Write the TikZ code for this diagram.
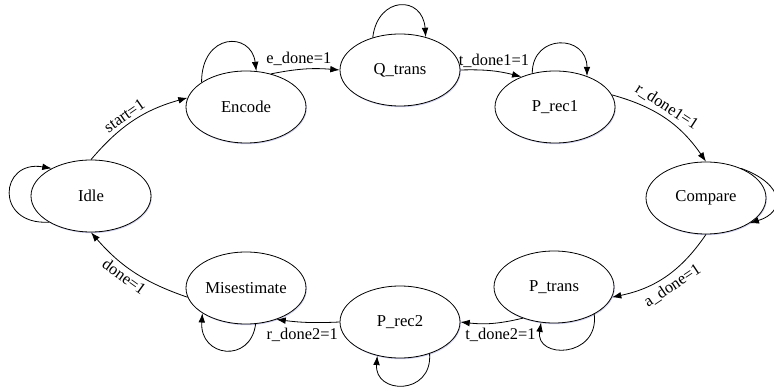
\documentclass[tikz,border=0pt]{standalone}
\usepackage{fontspec}
\setmainfont{Liberation Serif}
\usetikzlibrary{%
	arrows.meta,%
	shapes.geometric,%
	shadows%
}

\begin{document}
\begin{tikzpicture}[x=0.75pt,y=-0.75pt,line width=0.6pt,
	>={Latex[length=7pt,width=5pt]},
	fsm/.style={ellipse,draw,fill=white,minimum width=90pt,minimum height=54pt,inner sep=0pt,
		font=\fontsize{12.5}{14}\selectfont,
		drop shadow={shadow xshift=0.6pt,shadow yshift=-0.9pt,fill=cyan!25!blue!18,opacity=1}},
	lbl/.style={font=\fontsize{12.3}{14}\selectfont,inner sep=2.5pt}]
	\useasboundingbox (0,0) rectangle (774,388);

	% States
	\node[fsm] (idle) at (91,196) {Idle};
	\node[fsm] (encode) at (246,107) {Encode};
	\node[fsm] (qtrans) at (400,70) {Q\_trans};
	\node[fsm] (prec1) at (555,107) {P\_rec1};
	\node[fsm] (compare) at (706,198) {Compare};
	\node[fsm] (ptrans) at (554,287) {P\_trans};
	\node[fsm] (prec2) at (400,322) {P\_rec2};
	\node[fsm] (misest) at (246,288) {Misestimate};

	% Transitions
	\draw[->] (idle.north) to[bend left=17] node[lbl,sloped,above,pos=0.45] {start=1} (encode.171);
	\draw[->] (encode.53) to[bend left=8] node[lbl,above,pos=0.4] {e\_done=1} (qtrans.west);
	\draw[->] (qtrans.east) to[bend left=8] node[lbl,above,pos=0.55] {t\_done1=1} (prec1.138);
	\draw[->] (prec1.12) to[bend left=20] node[lbl,sloped,above,pos=0.45] {r\_done1=1} (compare.north);
	\draw[->] (compare.south) to[bend left=22] node[lbl,sloped,below,inner sep=3.5pt] {a\_done=1} (ptrans.-10);
	\draw[->] (ptrans.225) to[bend left=10] node[lbl,below,pos=0.35,inner sep=4pt] {t\_done2=1} (prec2.east);
	\draw[->] (prec2.west) to[bend left=5] node[lbl,below,pos=0.6,inner sep=4pt] {r\_done2=1} (misest.314);
	\draw[->] (misest.189) to[bend left=15] node[lbl,sloped,below,pos=0.55] {done=1} (idle.south);

	% Self loops
	\draw[->] (idle.212) .. controls +(-55,3) and +(-52,-9) .. (idle.145);
	\draw[->] (encode.151) .. controls +(0,-50) and +(-5,-40) .. (encode.74);
	\draw[->] (qtrans.130) .. controls +(5,-42) and +(-3,-42) .. (qtrans.52);
	\draw[->] (prec1.124) .. controls +(0,-40) and +(0,-42) .. (prec1.44);
	\draw[->] (compare.40) .. controls +(44,16) and +(36,-11) .. (compare.-30);
	\draw[->] (ptrans.-34) .. controls +(5,44) and +(-6,37) .. (ptrans.250);
	\draw[->] (prec2.-47) .. controls +(3,42) and +(-3,39) .. (prec2.236);
	\draw[->] (misest.-75) .. controls +(-5,40) and +(-3,44) .. (misest.210);
\end{tikzpicture}
\end{document}
